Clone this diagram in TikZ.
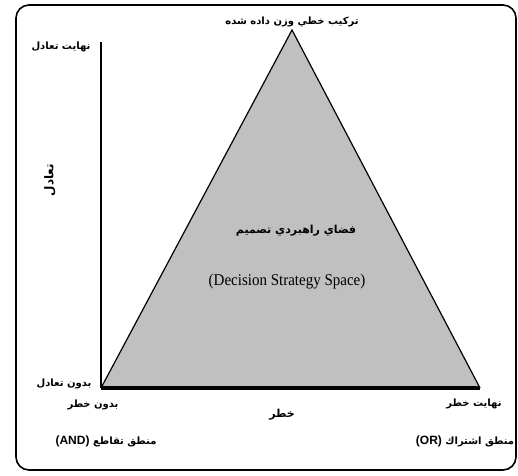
\documentclass[tikz,border=0pt]{standalone}
\usepackage{fontspec}
\setmainfont{Liberation Serif}
\newfontfamily\fa[Script=Arabic]{DejaVu Sans}
\newfontfamily\lat{Liberation Sans}
\TeXXeTstate=1
\definecolor{trigray}{HTML}{C0C0C0}
\tikzset{
  lbl/.style={inner sep=0pt, font=\fa\bfseries\fontsize{10}{12}\selectfont},
  frame/.style={draw=black, line width=1.6pt, rounded corners=13pt},
}
\begin{document}
\begin{tikzpicture}[x=1pt,y=-1pt]
\useasboundingbox (0,0) rectangle (518,475);
% frame
\draw[frame] (16,5) rectangle (516,470);
% triangle
\coordinate (A) at (292,30);
\coordinate (B) at (101,388);
\coordinate (C) at (480,388);
\fill[trigray] (A) -- (B) -- (C) -- cycle;
\draw[line width=1.2pt] (B) -- (A) -- (C);
\draw[line width=3.5pt] (B) -- (C);
% vertical axis
\coordinate (T) at (101,42);
\draw[line width=2.4pt] (T) -- (B);
% labels
\node[lbl] (top) at (292,22) {\beginR تركيب خطي وزن داده شده\endR};
\node[lbl] (maxbal) at (61,47) {\beginR نهايت تعادل\endR};
\node[lbl, rotate=90, font=\fa\bfseries\fontsize{12}{14}\selectfont] (bal) at (50,180) {\beginR تعادل\endR};
\node[lbl, font=\fa\bfseries\fontsize{11}{13}\selectfont] (space) at (296,231) {\beginR فضاي راهبردي تصميم\endR};
\node[inner sep=0pt, font=\fontsize{15}{17}\selectfont, yscale=1.1] (eng) at (287,282) {(Decision Strategy Space)};
\node[lbl] (nobal) at (64,384) {\beginR بدون تعادل\endR};
\node[lbl] (norisk) at (93,405) {\beginR بدون خطر\endR};
\node[lbl, font=\fa\bfseries\fontsize{11}{13}\selectfont] (risk) at (282,415) {\beginR خطر\endR};
\node[lbl] (maxrisk) at (474,404) {\beginR نهايت خطر\endR};
\node[lbl] (and) at (106,441) {{\lat\bfseries\fontsize{12}{14}\selectfont (AND)} \beginR منطق تقاطع\endR};
\node[lbl] (or) at (465,441) {{\lat\bfseries\fontsize{12}{14}\selectfont (OR)} \beginR منطق اشتراك\endR};
\end{tikzpicture}
\end{document}
